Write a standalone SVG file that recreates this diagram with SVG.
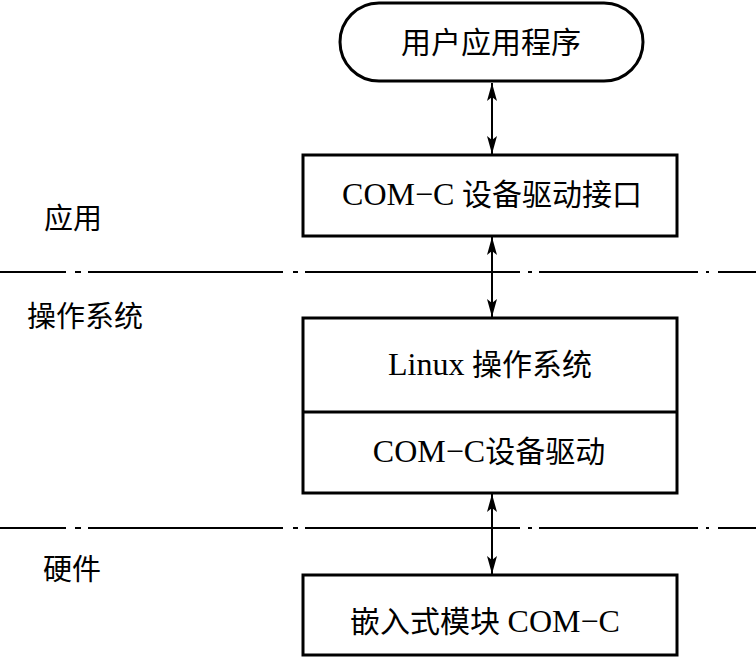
<svg xmlns="http://www.w3.org/2000/svg" width="756" height="657" viewBox="0 0 756 657">
<style>
.box{fill:#fff;stroke:#000;stroke-width:3}
.t{font-family:"Liberation Serif","Noto Sans CJK SC",serif;font-size:30px;fill:#000;text-anchor:middle}
.t tspan.la{font-size:32px}
.l{font-family:"Liberation Serif","Noto Sans CJK SC",serif;font-size:29px;fill:#000}
.c{stroke:#000;stroke-width:2;fill:none;marker-start:url(#ah);marker-end:url(#ah)}
.dl{stroke:#000;stroke-width:2;fill:none}
</style>
<defs>
<marker id="ah" viewBox="0 0 18 10" refX="18" refY="5" markerWidth="18" markerHeight="10" markerUnits="userSpaceOnUse" orient="auto-start-reverse">
<path d="M0,0 L18,5 L0,10 L4,5 Z" fill="#000"/>
</marker>
</defs>
<g id="separators">
<path class="dl" d="M0,272H66M75,272H81M88,272H283M293,272H298M305,272H520M528,272H532M539,272H698M706,272H709M718,272H756"/>
<path class="dl" d="M0,528H66M75,528H81M88,528H283M293,528H298M305,528H520M528,528H532M539,528H698M706,528H709M718,528H756"/>
</g>
<g id="labels">
<text class="l" x="44" y="229">应用</text>
<text class="l" x="27" y="327">操作系统</text>
<text class="l" x="43" y="580">硬件</text>
</g>
<g id="connectors">
<line class="c" x1="492" y1="83" x2="492" y2="154"/>
<line class="c" x1="492" y1="237" x2="492" y2="317"/>
<line class="c" x1="492" y1="494" x2="492" y2="574"/>
</g>
<g id="n-app">
<rect class="box" x="340" y="3" width="303" height="78" rx="39" ry="39"/>
<text class="t" x="491" y="53">用户应用程序</text>
</g>
<g id="n-iface">
<rect class="box" x="303" y="155" width="374" height="81"/>
<text class="t" x="492" y="205"><tspan class="la">COM−C</tspan> 设备驱动接口</text>
</g>
<g id="n-os">
<rect class="box" x="303" y="318" width="374" height="175"/>
<line x1="303" y1="412" x2="677" y2="412" stroke="#000" stroke-width="3"/>
<text class="t" x="490" y="375"><tspan class="la">Linux</tspan> 操作系统</text>
<text class="t" x="489" y="462"><tspan class="la">COM−C</tspan>设备驱动</text>
</g>
<g id="n-hw">
<rect class="box" x="303" y="575" width="374" height="80"/>
<text class="t" x="485" y="632">嵌入式模块 <tspan class="la">COM−C</tspan></text>
</g>
</svg>
